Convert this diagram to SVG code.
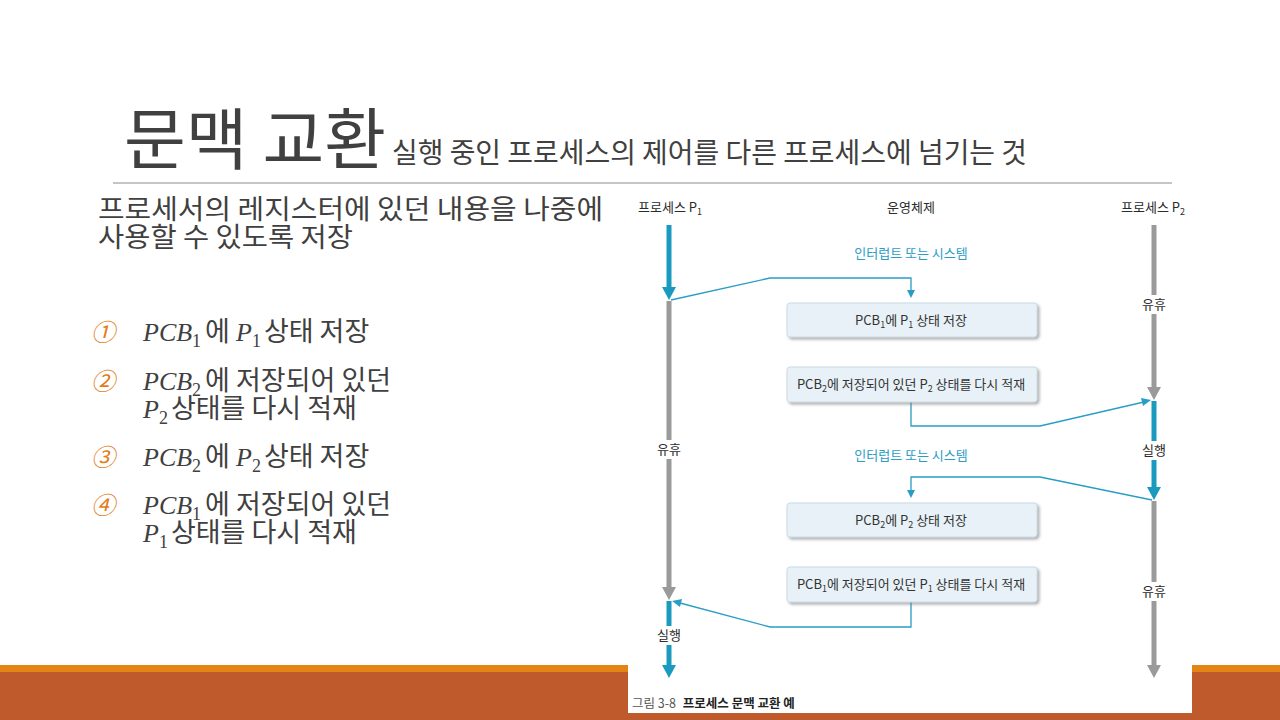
<svg xmlns="http://www.w3.org/2000/svg" width="1280" height="720" viewBox="0 0 1280 720">
<style>
.ttl{font-family:"Noto Sans CJK KR",sans-serif;fill:#404040}
.body{font-family:"Noto Sans CJK KR",sans-serif;font-size:27px;fill:#404040}
.m{font-family:"Liberation Serif",serif;font-style:italic;font-size:26px}
.sub{font-family:"Liberation Serif",serif;font-size:18px}
.num{font-family:"Noto Sans CJK KR",sans-serif;font-size:24px;font-style:italic;fill:#E07E1B}
.lbl{font-family:"Noto Sans CJK KR",sans-serif;font-size:13px;fill:#2b2b2b;text-anchor:middle}
.teal{font-family:"Noto Sans CJK KR",sans-serif;font-size:13px;fill:#2A9DC4;text-anchor:middle}
.bx{fill:#E7F1F7;stroke:#cddbe4;stroke-width:1}
.bt{font-family:"Noto Sans CJK KR",sans-serif;font-size:13px;fill:#333;text-anchor:middle}
.s{font-size:9px}
.blue{stroke:#1B9AC0;stroke-width:5;fill:none}
.gray{stroke:#9a9a9a;stroke-width:5;fill:none}
.bh{fill:#1B9AC0}
.gh{fill:#9a9a9a}
.thin{stroke:#2A9DC4;stroke-width:1.3;fill:none}
.th{fill:#2A9DC4}
</style>
<defs>
<filter id="sh" x="-10%" y="-30%" width="120%" height="160%">
<feDropShadow dx="2" dy="2" stdDeviation="1.5" flood-color="#777" flood-opacity="0.6"/>
</filter>
</defs>
<rect width="1280" height="720" fill="#fff"/>

<!-- bottom bar -->
<rect x="0" y="665" width="1280" height="7" fill="#E48414"/>
<rect x="0" y="672" width="1280" height="48" fill="#BE5A2B"/>

<!-- title -->
<g id="title">
<text class="ttl" x="124" y="164" font-size="67" textLength="262" lengthAdjust="spacingAndGlyphs">문맥 교환</text>
<text class="ttl" x="392" y="163" font-size="28" textLength="635" lengthAdjust="spacingAndGlyphs">실행 중인 프로세스의 제어를 다른 프로세스에 넘기는 것</text>
<line x1="113" y1="183" x2="1172" y2="183" stroke="#8c8c8c" stroke-width="1.2"/>
</g>

<g id="intro">
<text class="body" x="98" y="219" font-size="26" textLength="505" lengthAdjust="spacingAndGlyphs">프로세서의 레지스터에 있던 내용을 나중에</text>
<text class="body" x="98" y="247" font-size="26" textLength="255" lengthAdjust="spacingAndGlyphs">사용할 수 있도록 저장</text>
</g>

<g id="list" class="body">
<text class="num" x="91" y="341">①</text>
<text x="143" y="341"><tspan class="m">PCB</tspan><tspan class="sub" dy="6">1</tspan><tspan dy="-6" dx="4">에 </tspan><tspan class="m">P</tspan><tspan class="sub" dy="6">1</tspan><tspan dy="-6" dx="3">상태 저장</tspan></text>
<text class="num" x="91" y="390">②</text>
<text x="143" y="390"><tspan class="m">PCB</tspan><tspan class="sub" dy="6">2</tspan><tspan dy="-6" dx="4">에 저장되어 있던</tspan></text>
<text x="143" y="418"><tspan class="m">P</tspan><tspan class="sub" dy="6">2</tspan><tspan dy="-6" dx="3">상태를 다시 적재</tspan></text>
<text class="num" x="91" y="466">③</text>
<text x="143" y="466"><tspan class="m">PCB</tspan><tspan class="sub" dy="6">2</tspan><tspan dy="-6" dx="4">에 </tspan><tspan class="m">P</tspan><tspan class="sub" dy="6">2</tspan><tspan dy="-6" dx="3">상태 저장</tspan></text>
<text class="num" x="91" y="514">④</text>
<text x="143" y="514"><tspan class="m">PCB</tspan><tspan class="sub" dy="6">1</tspan><tspan dy="-6" dx="4">에 저장되어 있던</tspan></text>
<text x="143" y="542"><tspan class="m">P</tspan><tspan class="sub" dy="6">1</tspan><tspan dy="-6" dx="3">상태를 다시 적재</tspan></text>
</g>

<!-- figure panel -->
<rect x="628" y="188" width="564" height="525" fill="#fff"/>

<g id="headers">
<text class="lbl" x="670" y="212">프로세스 P<tspan class="s" dy="3">1</tspan></text>
<text class="lbl" x="911" y="212">운영체제</text>
<text class="lbl" x="1153" y="212">프로세스 P<tspan class="s" dy="3">2</tspan></text>
</g>

<g id="laneP1">
<line class="blue" x1="669" y1="225" x2="669" y2="289"/>
<polygon class="bh" points="662,287 676,287 669,300"/>
<line class="gray" x1="669" y1="301" x2="669" y2="440"/>
<text class="lbl" x="669" y="454">유휴</text>
<line class="gray" x1="669" y1="459" x2="669" y2="589"/>
<polygon class="gh" points="662,587 676,587 669,600"/>
<line class="blue" x1="669" y1="601" x2="669" y2="626"/>
<text class="lbl" x="669" y="640">실행</text>
<line class="blue" x1="669" y1="645" x2="669" y2="667"/>
<polygon class="bh" points="662,665 676,665 669,678"/>
</g>

<g id="laneP2">
<line class="gray" x1="1154" y1="225" x2="1154" y2="295"/>
<text class="lbl" x="1154" y="309">유휴</text>
<line class="gray" x1="1154" y1="314" x2="1154" y2="389"/>
<polygon class="gh" points="1147,387 1161,387 1154,400"/>
<line class="blue" x1="1154" y1="401" x2="1154" y2="441"/>
<text class="lbl" x="1154" y="455">실행</text>
<line class="blue" x1="1154" y1="460" x2="1154" y2="489"/>
<polygon class="bh" points="1147,487 1161,487 1154,500"/>
<line class="gray" x1="1154" y1="501" x2="1154" y2="582"/>
<text class="lbl" x="1154" y="596">유휴</text>
<line class="gray" x1="1154" y1="601" x2="1154" y2="667"/>
<polygon class="gh" points="1147,665 1161,665 1154,678"/>
</g>

<g id="connectors">
<text class="teal" x="911" y="258">인터럽트 또는 시스템</text>
<polyline class="thin" points="671,300 770,278 911,278 911,292"/>
<polygon class="th" points="907,290 915,290 911,298"/>
<polyline class="thin" points="911,402 911,426 1040,426 1144,402"/>
<polygon class="th" points="1151,400 1141,398 1143,406"/>
<text class="teal" x="911" y="460">인터럽트 또는 시스템</text>
<polyline class="thin" points="1152,500 1040,477 911,477 911,492"/>
<polygon class="th" points="907,490 915,490 911,498"/>
<polyline class="thin" points="911,602 911,627 770,627 680,603"/>
<polygon class="th" points="672,601 682,599 680,607"/>
</g>

<g id="box1">
<rect class="bx" x="787" y="303" width="250" height="34" rx="3" filter="url(#sh)"/>
<text class="bt" x="911" y="325">PCB<tspan class="s" dy="3">1</tspan><tspan dy="-3">에 P</tspan><tspan class="s" dy="3">1</tspan><tspan dy="-3"> 상태 저장</tspan></text>
</g>
<g id="box2">
<rect class="bx" x="787" y="367" width="250" height="35" rx="3" filter="url(#sh)"/>
<text class="bt" x="911" y="389">PCB<tspan class="s" dy="3">2</tspan><tspan dy="-3">에 저장되어 있던 P</tspan><tspan class="s" dy="3">2</tspan><tspan dy="-3"> 상태를 다시 적재</tspan></text>
</g>
<g id="box3">
<rect class="bx" x="787" y="503" width="250" height="34" rx="3" filter="url(#sh)"/>
<text class="bt" x="911" y="525">PCB<tspan class="s" dy="3">2</tspan><tspan dy="-3">에 P</tspan><tspan class="s" dy="3">2</tspan><tspan dy="-3"> 상태 저장</tspan></text>
</g>
<g id="box4">
<rect class="bx" x="787" y="567" width="250" height="35" rx="3" filter="url(#sh)"/>
<text class="bt" x="911" y="589">PCB<tspan class="s" dy="3">1</tspan><tspan dy="-3">에 저장되어 있던 P</tspan><tspan class="s" dy="3">1</tspan><tspan dy="-3"> 상태를 다시 적재</tspan></text>
</g>

<g id="caption">
<text x="632" y="708" font-family="Noto Sans CJK KR, sans-serif" font-size="12.5" fill="#555">그림 3-8 <tspan font-weight="bold" fill="#222" dx="4">프로세스 문맥 교환 예</tspan></text>
</g>
</svg>
